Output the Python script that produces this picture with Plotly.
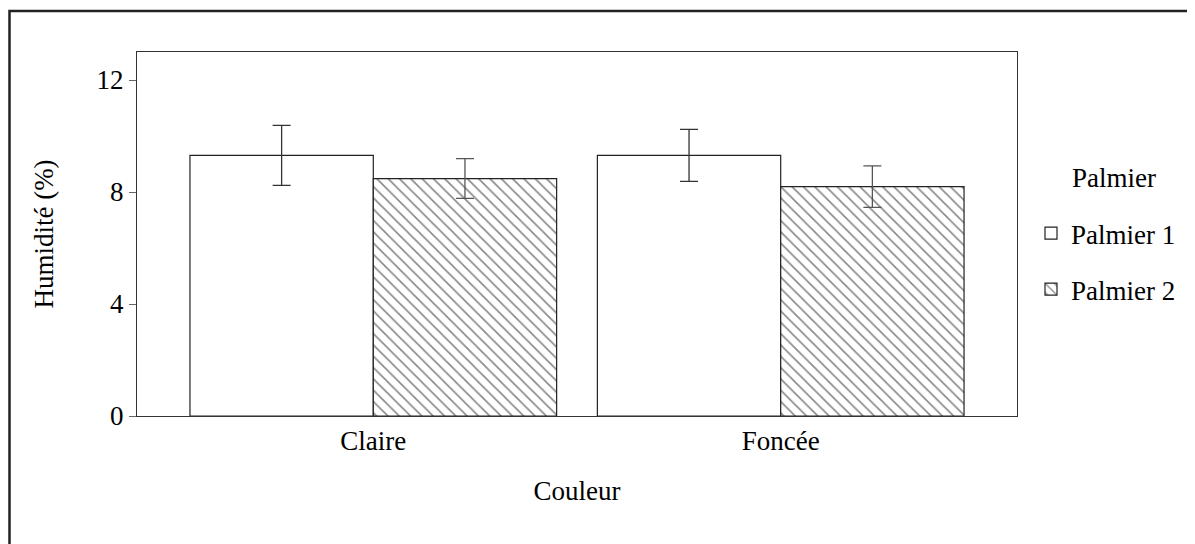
import plotly.graph_objects as go

categories = ["Claire", "Foncée"]
series_names = ["Palmier 1", "Palmier 2"]
palmier1 = [9.31, 9.31]
palmier1_err = [1.07, 0.93]
palmier2 = [8.48, 8.19]
palmier2_err = [0.71, 0.74]
y_ticks = [0, 4, 8, 12]
legend_title = "Palmier"

FONT = "Liberation Serif, Times New Roman, serif"
FS = 27
OFF = 8  # page body margin
W, H = 1195 - OFF, 544 - OFF
L, R, T, B = 137 - OFF, 1017 - OFF, 52 - OFF, 416 - OFF

fig = go.Figure()
fig.add_trace(go.Bar(
    x=categories, y=palmier1, name=series_names[0], legendgroup="p1",
    marker=dict(color="white", line=dict(color="#222", width=1.2)),
    error_y=dict(type="data", array=palmier1_err, color="#333", thickness=1.3, width=9),
))
fig.add_trace(go.Bar(
    x=categories, y=palmier2, name=series_names[1], legendgroup="p2",
    marker=dict(color="white", line=dict(color="#222", width=1.2),
                pattern=dict(shape="\\", fgcolor="#111", bgcolor="white", size=8, solidity=0.2)),
    error_y=dict(type="data", array=palmier2_err, color="#555", thickness=1.3, width=9),
))

px = lambda x: (x - L) / (R - L)
py = lambda y: (B - y) / (B - T)

# outer frame
fig.add_shape(type="rect", xref="paper", yref="paper",
              x0=px(9.5 - OFF), x1=px(1400), y0=py(800), y1=py(11 - OFF),
              line=dict(color="#222", width=2.5), fillcolor="rgba(0,0,0,0)")

fig.add_annotation(text=legend_title, xref="paper", yref="paper",
                   x=px(1070 - OFF), y=py(178 - OFF), xanchor="left", yanchor="middle",
                   showarrow=False, font=dict(family=FONT, size=FS, color="black"))

fig.update_layout(
    width=W, height=H,
    margin=dict(l=L, r=W - R, t=T, b=H - B, pad=0),
    paper_bgcolor="white", plot_bgcolor="white",
    barmode="group", bargap=0.1, bargroupgap=0,
    font=dict(family=FONT, size=FS, color="black"),
    showlegend=True,
    legend=dict(
        x=px(1031 - OFF), xanchor="left", y=py(209 - OFF), yanchor="top",
        tracegroupgap=18, font=dict(family=FONT, size=FS),
        bgcolor="rgba(0,0,0,0)", traceorder="grouped",
    ),
    xaxis=dict(
        range=[-0.58, 1.58], showline=True, linecolor="#333", linewidth=1.2, mirror=True,
        ticks="", showgrid=False, tickfont=dict(family=FONT, size=FS),
        title=dict(text="Couleur", font=dict(family=FONT, size=FS), standoff=26),
    ),
    yaxis=dict(
        range=[0, 13], tickvals=y_ticks, showline=True, linecolor="#333", linewidth=1.2, mirror=True,
        ticks="outside", ticklen=7, tickcolor="#666", showgrid=False, zeroline=False,
        tickfont=dict(family=FONT, size=FS),
        title=dict(text="Humidité (%)", font=dict(family=FONT, size=FS), standoff=35),
    ),
)

fig.write_html("out.html")
